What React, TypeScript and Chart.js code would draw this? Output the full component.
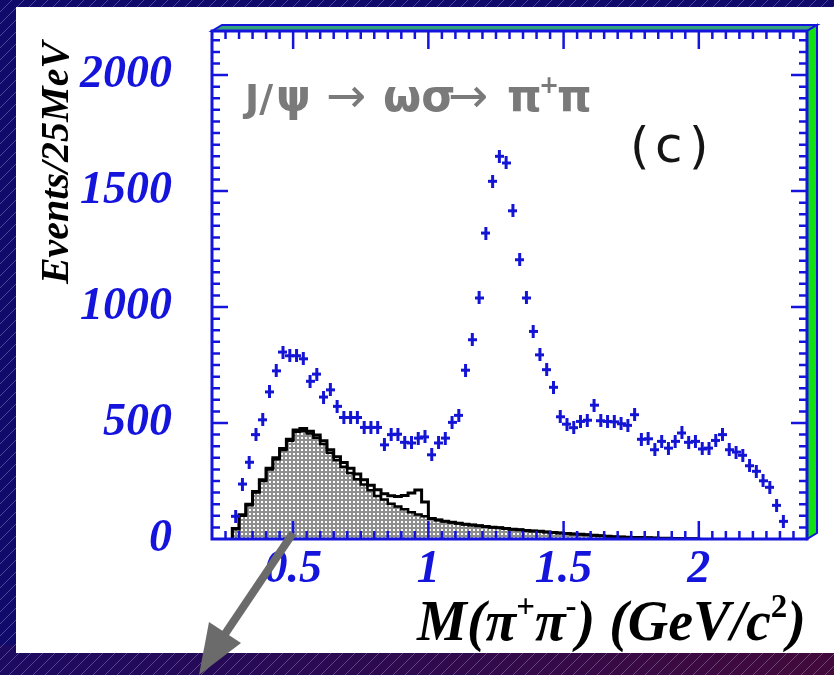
import React, { useEffect, useRef } from 'react';
import { Chart, registerables } from 'chart.js';

Chart.register(...registerables);

// ---------- data ----------
const BIN_WIDTH = 0.025; // 25 MeV
const DATA_FIRST_BIN_LOW = 0.275;
const HIST_FIRST_BIN_LOW = 0.275;

// Events / 25 MeV, data points (blue crosses)
const dataCounts = [
  98, 237, 331, 450, 514, 634, 725, 806, 790, 790,
  777, 680, 711, 612, 643, 572, 524, 524, 524, 481,
  481, 481, 406, 450, 452, 417, 414, 435, 440, 363,
  414, 435, 503, 533, 728, 859, 1039, 1319, 1542, 1650,
  1621, 1415, 1204, 1039, 895, 794, 730, 654, 527, 495,
  480, 507, 512, 577, 510, 507, 505, 497, 490, 536,
  430, 432, 385, 421, 392, 421, 457, 417, 421, 388,
  392, 425, 450, 385, 375, 361, 316, 292, 251, 223,
  145, 76,
];

// outer (open) histogram
const histOuter = [
  45, 105, 150, 205, 255, 305, 350, 390, 430, 470,
  476, 465, 448, 424, 385, 355, 330, 305, 280, 255,
  232, 212, 195, 186, 183, 188, 198, 211, 160, 88,
  82, 76, 72, 68, 64, 60, 57, 54, 51, 48,
  45, 42, 40, 37, 35, 33, 30, 28, 26, 24,
  22, 20, 18, 16, 14, 12, 10, 9, 8, 7,
  6, 5, 4, 3, 3, 2, 2, 1, 1,
];

// inner (shaded) histogram
const histInner = [
  42, 100, 145, 200, 250, 300, 344, 384, 424, 462,
  466, 455, 436, 410, 372, 340, 312, 285, 258, 235,
  210, 185, 170, 152, 140, 128, 115, 106, 98, 88,
  82, 76, 72, 68, 64, 60, 57, 54, 51, 48,
  45, 42, 40, 37, 35, 33, 30, 28, 26, 24,
  22, 20, 18, 16, 14, 12, 10, 9, 8, 7,
  6, 5, 4, 3, 3, 2, 2, 1, 1,
];

const xTickValues = [0.5, 1, 1.5, 2];
const xTickLabels = ['0.5', '1', '1.5', '2'];
const yTickValues = [0, 500, 1000, 1500, 2000];
const yTickLabels = ['0', '500', '1000', '1500', '2000'];

const X_MIN = 0.2;
const X_MAX = 2.4;
const Y_MIN = 0;
const Y_MAX = 2190;
const X_MINOR_STEP = 0.05;
const Y_MINOR_STEP = 50;

// ---------- styling ----------
const W = 834;
const H = 675;
const BLUE = '#1414dc';
const SERIF = "'Liberation Serif', 'DejaVu Serif', serif";
const SANS = "'DejaVu Sans', 'Liberation Sans', sans-serif";

function histPoints(vals: number[], low: number) {
  const pts = [{ x: low, y: 0 }];
  vals.forEach((v, i) => pts.push({ x: low + i * BIN_WIDTH, y: v }));
  pts.push({ x: low + vals.length * BIN_WIDTH, y: 0 });
  return pts;
}

type Run = { t: string; font: string; dy?: number };
function runsWidth(ctx: CanvasRenderingContext2D, runs: Run[]) {
  let w = 0;
  for (const r of runs) { ctx.font = r.font; w += ctx.measureText(r.t).width; }
  return w;
}
function drawRuns(ctx: CanvasRenderingContext2D, runs: Run[], x: number, y: number) {
  let cx = x;
  for (const r of runs) {
    ctx.font = r.font;
    ctx.fillText(r.t, cx, y + (r.dy || 0));
    cx += ctx.measureText(r.t).width;
  }
}

const backgroundPlugin = {
  id: 'slideBackground',
  beforeDraw(chart: any) {
    const ctx: CanvasRenderingContext2D = chart.ctx;
    ctx.save();
    ctx.fillStyle = '#100b6a';
    ctx.fillRect(0, 0, W, H);
    const g = ctx.createLinearGradient(0, 0, W, 0);
    g.addColorStop(0, '#1c0a62');
    g.addColorStop(1, '#420a3a');
    ctx.fillStyle = g;
    ctx.fillRect(0, 645, W, H - 645);
    // diagonal hatch
    ctx.strokeStyle = 'rgba(190,180,240,0.35)';
    ctx.lineWidth = 1;
    ctx.beginPath();
    for (let k = -H; k < W + H; k += 12) {
      ctx.moveTo(k, H);
      ctx.lineTo(k + H, 0);
    }
    ctx.stroke();
    // white panel
    ctx.fillStyle = '#ffffff';
    ctx.fillRect(16, 7, W - 16, 646);
    ctx.restore();
  },
};

const framePlugin = {
  id: 'boxFrame',
  afterDatasetsDraw(chart: any) {
    const ctx: CanvasRenderingContext2D = chart.ctx;
    const { left: L, right: R, top: T, bottom: B } = chart.chartArea;
    const xs = chart.scales.x;
    const ys = chart.scales.y;
    ctx.save();
    // 3D top face
    ctx.beginPath();
    ctx.moveTo(L, T); ctx.lineTo(R, T); ctx.lineTo(R + 10, T - 6); ctx.lineTo(L + 10, T - 6); ctx.closePath();
    ctx.fillStyle = '#34a27c';
    ctx.fill();
    ctx.strokeStyle = BLUE; ctx.lineWidth = 2; ctx.stroke();
    // 3D right face
    ctx.beginPath();
    ctx.moveTo(R, T); ctx.lineTo(R + 10, T - 6); ctx.lineTo(R + 10, B - 6); ctx.lineTo(R, B); ctx.closePath();
    ctx.fillStyle = '#12e012';
    ctx.fill();
    ctx.stroke();
    // frame
    ctx.lineWidth = 3;
    ctx.strokeRect(L, T, R - L, B - T);
    // ticks
    ctx.lineWidth = 2.5;
    ctx.beginPath();
    const nx = Math.round((X_MAX - X_MIN) / X_MINOR_STEP);
    for (let k = 1; k < nx; k++) {
      const v = X_MIN + k * X_MINOR_STEP;
      const major = Math.abs(v * 2 - Math.round(v * 2)) < 1e-6;
      const len = major ? 18 : 8;
      const px = xs.getPixelForValue(v);
      ctx.moveTo(px, B); ctx.lineTo(px, B - len);
      ctx.moveTo(px, T); ctx.lineTo(px, T + len);
    }
    const ny = Math.floor((Y_MAX - Y_MIN) / Y_MINOR_STEP);
    for (let k = 1; k <= ny; k++) {
      const v = Y_MIN + k * Y_MINOR_STEP;
      if (v >= Y_MAX) break;
      const major = v % 500 === 0;
      const len = major ? 16 : 8;
      const py = ys.getPixelForValue(v);
      ctx.moveTo(L, py); ctx.lineTo(L + len, py);
      ctx.moveTo(R, py); ctx.lineTo(R - len, py);
    }
    ctx.stroke();
    ctx.restore();
  },
};

const textPlugin = {
  id: 'slideTexts',
  afterDraw(chart: any) {
    const ctx: CanvasRenderingContext2D = chart.ctx;
    ctx.save();
    ctx.textBaseline = 'alphabetic';
    ctx.textAlign = 'left';
    // reaction title
    ctx.fillStyle = '#7a7a7a';
    const tb = `bold 38px ${SANS}`;
    const tg = `bold 44px ${SANS}`;
    const ta = `48px ${SANS}`;
    const base = 111;
    ctx.font = tb; ctx.fillText('J/', 245, base);
    ctx.font = tg; ctx.fillText('\u03c8', 276, base);
    ctx.font = ta; ctx.fillText('\u2192', 326, base + 1);
    ctx.font = tg; ctx.fillText('\u03c9\u03c3', 383, base);
    ctx.font = ta; ctx.fillText('\u2192', 448, base + 1);
    ctx.font = tg; ctx.fillText('\u03c0', 507, base);
    ctx.font = `bold 24px ${SANS}`; ctx.fillText('+', 539, base - 18);
    ctx.font = tg; ctx.fillText('\u03c0', 557, base);
    // panel label
    ctx.fillStyle = '#151515';
    ctx.font = `50px ${SANS}`;
    ctx.fillText('(', 630, 163);
    ctx.fillText('c', 655, 162);
    ctx.fillText(')', 689, 163);
    // y title
    ctx.save();
    ctx.translate(58, 163);
    ctx.rotate(-Math.PI / 2);
    ctx.textAlign = 'center';
    ctx.textBaseline = 'middle';
    ctx.fillStyle = '#000';
    ctx.font = `bold italic 40px ${SERIF}`;
    ctx.fillText('Events/25MeV', 0, 0);
    ctx.restore();
    // x title
    ctx.fillStyle = '#000';
    const big = `bold italic 56px ${SERIF}`;
    const sup = `bold 33px ${SERIF}`;
    const runs: Run[] = [
      { t: 'M(\u03c0', font: big },
      { t: '+', font: sup, dy: -23 },
      { t: '\u03c0', font: big },
      { t: '-', font: sup, dy: -23 },
      { t: ') (GeV/c', font: big },
      { t: '2', font: sup, dy: -23 },
      { t: ')', font: big },
    ];
    const tw = runsWidth(ctx, runs);
    drawRuns(ctx, runs, 806 - tw, 640);
    // arrow
    ctx.strokeStyle = '#6b6b6b';
    ctx.fillStyle = '#6b6b6b';
    ctx.lineWidth = 8;
    ctx.beginPath();
    ctx.moveTo(293, 533);
    ctx.lineTo(225, 634);
    ctx.stroke();
    ctx.beginPath();
    ctx.moveTo(199, 675);
    ctx.lineTo(209, 622);
    ctx.lineTo(241, 643);
    ctx.closePath();
    ctx.fill();
    ctx.restore();
  },
};

export default function App() {
  const ref = useRef<HTMLCanvasElement | null>(null);

  useEffect(() => {
    const canvas = ref.current;
    if (!canvas) return;

    const cross = document.createElement('canvas');
    cross.width = 9; cross.height = 13;
    const cc = cross.getContext('2d')!;
    cc.fillStyle = '#1414d4';
    cc.fillRect(3, 0, 3, 13);
    cc.fillRect(0, 5, 9, 3);

    const tile = document.createElement('canvas');
    tile.width = 4; tile.height = 4;
    const tc = tile.getContext('2d')!;
    tc.fillStyle = '#8e8e8e';
    tc.fillRect(0, 0, 4, 4);
    tc.fillStyle = '#ffffff';
    tc.fillRect(1, 1, 2, 2);
    const pattern = canvas.getContext('2d')!.createPattern(tile, 'repeat');

    const dataPoints = dataCounts.map((v, i) => ({
      x: DATA_FIRST_BIN_LOW + (i + 0.5) * BIN_WIDTH,
      y: v,
    }));

    const tickFont = { family: SERIF, size: 46, style: 'italic' as const, weight: 'bold' as const };

    const chart = new Chart(canvas, {
      type: 'scatter',
      data: {
        datasets: [
          {
            type: 'scatter',
            label: 'data',
            data: dataPoints,
            pointStyle: cross as any,
            pointRadius: 5,
            showLine: false,
            order: 0,
          } as any,
          {
            type: 'line',
            label: 'outer',
            data: histPoints(histOuter, HIST_FIRST_BIN_LOW),
            stepped: 'before',
            borderColor: '#000000',
            borderWidth: 3,
            pointRadius: 0,
            fill: false,
            order: 1,
          } as any,
          {
            type: 'line',
            label: 'inner',
            data: histPoints(histInner, HIST_FIRST_BIN_LOW),
            stepped: 'before',
            borderColor: '#000000',
            borderWidth: 2.5,
            pointRadius: 0,
            fill: 'origin',
            backgroundColor: pattern as any,
            order: 2,
          } as any,
        ],
      },
      options: {
        responsive: false,
        animation: false,
        events: [],
        layout: { autoPadding: false, padding: { left: 0, top: 31, right: 27, bottom: 0 } },
        plugins: { legend: { display: false }, tooltip: { enabled: false } },
        scales: {
          x: {
            type: 'linear',
            min: X_MIN,
            max: X_MAX,
            grid: { display: false, drawTicks: false },
            border: { display: false },
            afterBuildTicks: (s: any) => { s.ticks = xTickValues.map((v) => ({ value: v })); },
            afterFit: (s: any) => { s.height = H - 539; s.paddingLeft = 0; s.paddingRight = 0; },
            ticks: {
              autoSkip: false,
              maxRotation: 0,
              padding: 4,
              color: BLUE,
              font: tickFont,
              callback: (v: any) => xTickLabels[xTickValues.indexOf(Number(v))] ?? '',
            },
          },
          y: {
            type: 'linear',
            min: Y_MIN,
            max: Y_MAX,
            grid: { display: false, drawTicks: false },
            border: { display: false },
            afterBuildTicks: (s: any) => { s.ticks = yTickValues.map((v) => ({ value: v })); },
            afterFit: (s: any) => { s.width = 212; s.paddingTop = 0; s.paddingBottom = 0; },
            ticks: {
              autoSkip: false,
              padding: 40,
              color: BLUE,
              font: tickFont,
              callback: (v: any) => yTickLabels[yTickValues.indexOf(Number(v))] ?? '',
            },
          },
        },
      } as any,
      plugins: [backgroundPlugin, framePlugin, textPlugin],
    });

    return () => chart.destroy();
  }, []);

  return (
    <div style={{ position: 'fixed', left: 0, top: 0, width: W, height: H }}>
      <canvas ref={ref} width={W} height={H} style={{ width: W, height: H, display: 'block' }} />
    </div>
  );
}
